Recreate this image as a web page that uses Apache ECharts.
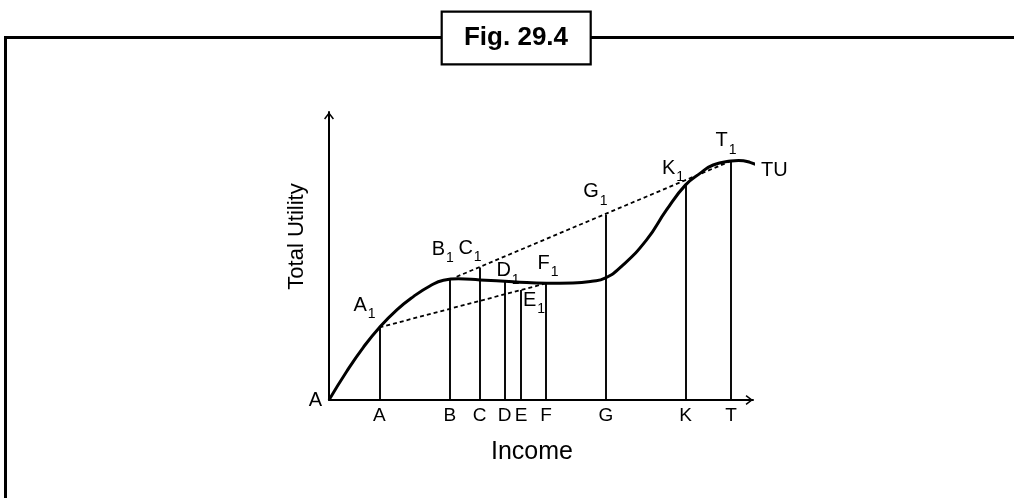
<!DOCTYPE html>
<html><head><meta charset="utf-8">
<script src="https://cdn.jsdelivr.net/npm/echarts@6/dist/echarts.min.js"></script>
<style>html,body{margin:0;padding:0;background:#fff}#c{width:1014px;height:498px}</style>
</head><body><div id="c"></div>
<script>
const FONT = "'Liberation Sans', Arial, Helvetica, sans-serif";

// Marked points on the income axis
const pointNames = ['A', 'B', 'C', 'D', 'E', 'F', 'G', 'K', 'T'];
const pointIncome = [11.9, 28.5, 35.5, 41.4, 45.3, 51.2, 65.3, 84.1, 94.8];
// Height reached by each vertical line (on the TU curve or on a chord)
const pointHeight = [25.2, 42.0, 46.0, 41.0, 38.2, 40.5, 64.3, 74.7, 83.0];

// Total utility curve
const tuIncome  = [0, 4.2, 8.1, 11.9, 16.0, 19.9, 23.8, 27.0, 30.5, 35.6, 43.4, 51.3, 57.5, 62.0, 65.1, 69.0, 74.9, 79.6, 84.1, 87.5, 90.6, 94.8, 96.6, 99.3, 102.6];
const tuUtility = [0, 10.0, 18.3, 25.2, 31.3, 35.9, 39.6, 41.6, 42.1, 41.7, 41.1, 40.5, 40.6, 41.2, 42.3, 46.4, 55.6, 66.0, 74.7, 78.7, 81.6, 83.0, 83.2, 82.5, 80.5];

// Dashed chords
const lowerChordIncome = [11.9, 51.2];
const lowerChordUtility = [25.2, 40.5];
const upperChordIncome = [30.1, 94.8];
const upperChordUtility = [42.8, 83.0];

const originLabel = 'A';
const curveName = 'TU';
const xName = 'Income';
const yName = 'Total Utility';
const figTitle = 'Fig. 29.4';

// label placement (style)
const labelOffset = {
  A: [-15, -21], B: [-7, -29], C: [-9.5, -18.5], D: [3.5, -10], E: [13, 11.5],
  F: [2, -19], G: [-10.5, -22], K: [-12.5, -15.5], T: [-5, -19]
};

const arrowPath = 'path://M5,0 L10,6.5 L8.8,7.4 L5.8,3.4 L5.8,13 L4.2,13 L4.2,3.4 L1.2,7.4 L0,6.5 Z';

const chart = echarts.init(document.getElementById('c'), null, { renderer: 'canvas' });

const labelData = pointNames.map((n, i) => ({
  value: [pointIncome[i], pointHeight[i]],
  name: n,
  label: { offset: labelOffset[n] }
}));

const option = {
  animation: false,
  backgroundColor: '#fff',
  textStyle: { fontFamily: FONT },
  grid: { left: 329, right: 261, top: 112, bottom: 98, containLabel: false, outerBoundsMode: 'none' },
  xAxis: {
    type: 'value', min: 0, max: 100,
    name: xName, nameLocation: 'middle', nameGap: 40, nameMoveOverlap: false,
    nameTextStyle: { fontSize: 25, color: '#000', fontFamily: FONT, padding: [0, 18, 0, 0] },
    axisLine: { show: true, onZero: false, symbol: ['none', arrowPath], symbolSize: [10, 13], symbolOffset: [0, -6.5],
      lineStyle: { color: '#000', width: 2 } },
    axisTick: { show: false },
    splitLine: { show: false },
    axisLabel: {
      customValues: pointIncome, margin: 6, fontSize: 19, color: '#000', fontFamily: FONT,
      formatter: v => { const i = pointIncome.indexOf(v); return i >= 0 ? pointNames[i] : ''; }
    }
  },
  yAxis: {
    type: 'value', min: 0, max: 100,
    name: yName, nameLocation: 'middle', nameGap: 21, nameMoveOverlap: false,
    nameTextStyle: { fontSize: 22, color: '#000', fontFamily: FONT, padding: [0, 0, 0, 39] },
    axisLine: { show: true, onZero: false, symbol: ['none', arrowPath], symbolSize: [10, 13], symbolOffset: [0, -6.5],
      lineStyle: { color: '#000', width: 2 } },
    axisTick: { show: false },
    splitLine: { show: false },
    axisLabel: {
      customValues: [0], margin: 7, fontSize: 20, color: '#000', fontFamily: FONT,
      formatter: () => originLabel
    }
  },
  graphic: [
    { type: 'polyline', shape: { points: [[5.5, 498], [5.5, 37.5], [441.7, 37.5]] }, style: { stroke: '#000', lineWidth: 3, fill: null }, z: 1 },
    { type: 'line', shape: { x1: 590.7, y1: 37.5, x2: 1014, y2: 37.5 }, style: { stroke: '#000', lineWidth: 3 }, z: 1 },
    { type: 'rect', shape: { x: 441.7, y: 11.7, width: 149, height: 52.6 }, style: { stroke: '#000', lineWidth: 2.2, fill: '#fff' }, z: 2 },
    { type: 'text', x: 516, y: 38, style: { text: figTitle, font: 'bold 26px ' + FONT, fill: '#000', textAlign: 'center', textVerticalAlign: 'middle' }, z: 3 }
  ],
  series: [
    {
      type: 'lines', coordinateSystem: 'cartesian2d', silent: true, z: 2,
      lineStyle: { color: '#000', width: 1.9, opacity: 1 },
      data: pointIncome.map((x, i) => ({ coords: [[x, 0], [x, pointHeight[i]]] }))
    },
    {
      type: 'lines', coordinateSystem: 'cartesian2d', silent: true, z: 2,
      lineStyle: { color: '#000', width: 1.8, type: [4, 3], opacity: 1 },
      data: [
        { coords: lowerChordIncome.map((x, i) => [x, lowerChordUtility[i]]) },
        { coords: upperChordIncome.map((x, i) => [x, upperChordUtility[i]]) }
      ]
    },
    {
      type: 'line', name: curveName, clip: false, smooth: 0.5, showSymbol: false, symbol: 'none', z: 3,
      lineStyle: { color: '#000', width: 3 },
      data: tuIncome.map((x, i) => [x, tuUtility[i]]),
      endLabel: { show: true, formatter: curveName, fontSize: 20, color: '#000', fontFamily: FONT, distance: 6, offset: [0, 6] }
    },
    {
      type: 'scatter', symbolSize: 1, itemStyle: { color: 'rgba(0,0,0,0)', opacity: 1 }, silent: true, z: 4,
      data: labelData,
      label: {
        show: true, position: 'inside', align: 'center', verticalAlign: 'middle', opacity: 1,
        formatter: p => '{m|' + p.name + '}{s|1}',
        rich: {
          m: { fontSize: 20, lineHeight: 22, verticalAlign: 'top', color: '#000', fontFamily: FONT },
          s: { fontSize: 14, lineHeight: 16, verticalAlign: 'top', padding: [12, 0, 0, 1], color: '#000', fontFamily: FONT }
        }
      }
    }
  ]
};
chart.setOption(option);
</script>
</body></html>
